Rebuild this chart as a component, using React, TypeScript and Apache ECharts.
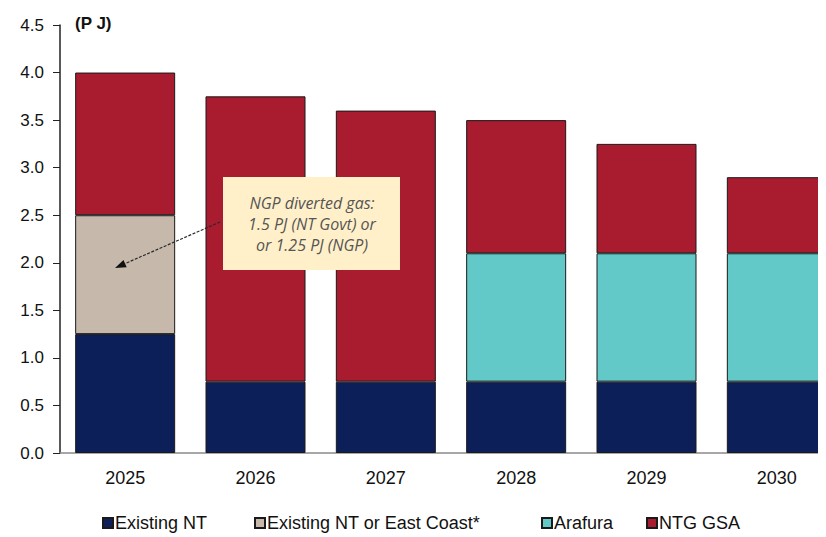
import React, { useEffect, useRef } from "react";
import * as echarts from "echarts";

// Gas supply sources by year (PJ)
const years = ["2025", "2026", "2027", "2028", "2029", "2030"];
const existingNT = [1.25, 0.75, 0.75, 0.75, 0.75, 0.75];
const existingOrEastCoast = [1.25, 0, 0, 0, 0, 0];
const arafura = [0, 0, 0, 1.35, 1.35, 1.35];
const ntgGsa = [1.5, 3.0, 2.85, 1.4, 1.15, 0.8];
const yTicks = { min: 0, max: 4.5, interval: 0.5 };

const seriesNames = ["Existing NT", "Existing NT or East Coast*", "Arafura", "NTG GSA"];
const seriesColors = ["#0d1f58", "#c6b9ac", "#62c9c8", "#a91b2e"];
const seriesValues = [existingNT, existingOrEastCoast, arafura, ntgGsa];

const noteLines = ["NGP diverted gas:", "1.5 PJ (NT Govt) or", "or 1.25 PJ (NGP)"];

const FONT = "'Liberation Sans', Arial, sans-serif";
const legendLefts = [102, 254, 541, 646];

export default function App() {
  const ref = useRef<HTMLDivElement>(null);

  useEffect(() => {
    if (!ref.current) return;
    const chart = echarts.init(ref.current, undefined, { renderer: "svg" });

    const series = seriesNames.map((name, i) => ({
      name,
      type: "bar",
      stack: "supply",
      barWidth: 100,
      data: seriesValues[i].map((v) => (v === 0 ? null : v)),
      itemStyle: { color: seriesColors[i], borderColor: "#1a1a1a", borderWidth: 1 },
    }));

    // Arrow from the note box towards the 2025 diverted-gas segment
    const tip = [115, 268];
    const tail = [220, 222];
    const dx = tip[0] - tail[0];
    const dy = tip[1] - tail[1];
    const len = Math.hypot(dx, dy);
    const ux = dx / len;
    const uy = dy / len;
    const headLen = 11;
    const headHalf = 4;
    const bx = tip[0] - ux * headLen;
    const by = tip[1] - uy * headLen;
    const head = [
      [tip[0], tip[1]],
      [bx - uy * headHalf, by + ux * headHalf],
      [bx + uy * headHalf, by - ux * headHalf],
    ];

    chart.setOption({
      animation: false,
      grid: {
        left: 60,
        top: 25,
        width: 782,
        height: 428,
        containLabel: false,
        outerBoundsMode: "none",
      },
      legend: seriesNames.map((name, i) => ({
        data: [name],
        left: legendLefts[i],
        top: 514,
        icon: "rect",
        itemWidth: 10,
        itemHeight: 10,
        itemGap: 0,
        padding: 0,
        textStyle: { fontFamily: FONT, fontSize: 18, color: "#111", padding: [0, 0, 0, -3] },
      })),
      xAxis: {
        type: "category",
        data: years,
        axisLine: { show: true, lineStyle: { color: "#8a8a8a", width: 1.5 } },
        axisTick: { show: false },
        axisLabel: { fontFamily: FONT, fontSize: 18, color: "#111", margin: 16 },
      },
      yAxis: {
        type: "value",
        min: yTicks.min,
        max: yTicks.max,
        interval: yTicks.interval,
        splitLine: { show: false },
        axisLine: { show: true, lineStyle: { color: "#222", width: 1.5 } },
        axisTick: { show: true, length: 7, lineStyle: { color: "#222" } },
        axisLabel: {
          fontFamily: FONT,
          fontSize: 17,
          color: "#111",
          margin: 16,
          formatter: (v: number) => v.toFixed(1),
        },
      },
      series,
      graphic: [
        {
          type: "text",
          left: 75,
          top: 15,
          style: { text: "(P J)", font: `bold 17px ${FONT}`, fill: "#111" },
        },
        {
          type: "rect",
          shape: { x: 223, y: 177, width: 177, height: 93 },
          style: { fill: "#fff0c9", stroke: null },
          z: 10,
        },
        ...noteLines.map((t, i) => ({
          type: "text",
          x: 312,
          y: 203 + i * 21,
          z: 11,
          style: {
            text: t,
            font: `italic 16px 'Open Sans', 'Noto Sans', sans-serif`,
            fill: "#555",
            align: "center",
            verticalAlign: "middle",
          },
        })),
        {
          type: "line",
          z: 11,
          shape: { x1: tail[0], y1: tail[1], x2: bx, y2: by },
          style: { stroke: "#2a2a2a", lineWidth: 1.2, lineDash: [3, 1.5] },
        },
        {
          type: "polygon",
          z: 11,
          shape: { points: head },
          style: { fill: "#111" },
        },
      ],
    });

    return () => chart.dispose();
  }, []);

  return <div ref={ref} style={{ width: 826, height: 537, marginLeft: -8, marginTop: -8 }} />;
}
